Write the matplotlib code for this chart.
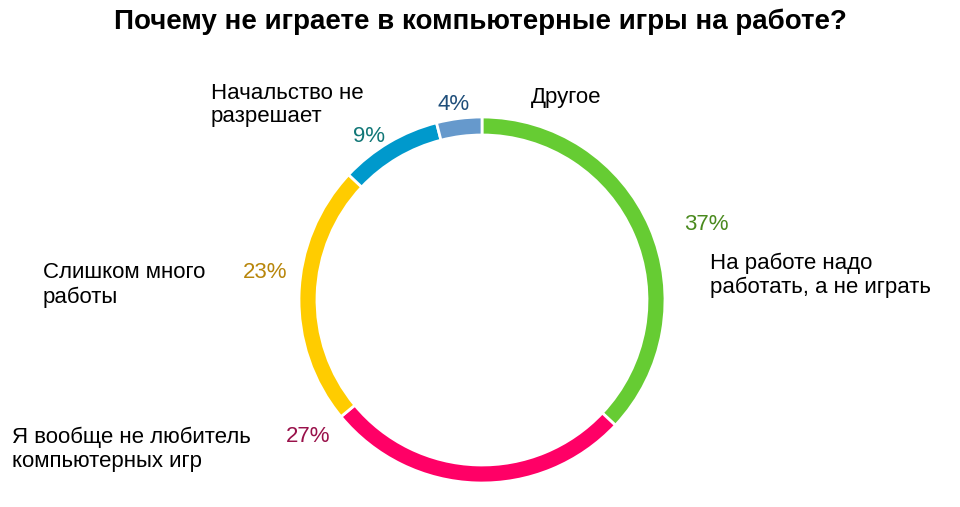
import matplotlib
matplotlib.use('Agg')
import matplotlib.pyplot as plt

# ---------------------------------------------------------------
title = 'Почему не играете в компьютерные игры на работе?'
labels = ['На работе надо\nработать, а не играть',
          'Я вообще не любитель\nкомпьютерных игр',
          'Слишком много\nработы',
          'Начальство не\nразрешает',
          'Другое']
values = [37, 27, 23, 9, 4]
colors = ['#66CC33', '#FF0066', '#FFCC00', '#0099CC', '#6699CC']
pct_colors = ['#4A8A1E', '#99114A', '#B8860B', '#117777', '#1F4E7A']
# ---------------------------------------------------------------

W, H = 960, 507
plt.rcParams['font.family'] = ['Liberation Sans', 'DejaVu Sans']

fig = plt.figure(figsize=(W / 100, H / 100), dpi=100)
ax = fig.add_axes([0, 0, 1, 1])

cx, cy, r = 482, 300, 183
ax.pie(values, colors=colors, startangle=90, counterclock=False,
       radius=r, center=(cx, H - cy),
       wedgeprops=dict(width=18, edgecolor='white', linewidth=2))
ax.set_xlim(0, W)
ax.set_ylim(0, H)
ax.set_aspect('equal')
ax.axis('off')

def put(x, y, s, **kw):
    ax.text(x, H - y, s, va='center', fontsize=16, linespacing=1.17, **kw)

ax.text(480, H - 22, title, ha='center', va='center', fontsize=20,
        fontweight='bold')

# category labels (pixel positions of the left edge / vertical centre)
label_pos = [(710, 275), (12, 449), (43, 285), (211, 105), (531, 97)]
pct_pos = [(684, 224), (286, 436), (243, 272), (353, 136), (437, 105)]

for lab, (lx, ly) in zip(labels, label_pos):
    put(lx, ly, lab, color='black')
for v, c, (px, py) in zip(values, pct_colors, pct_pos):
    put(px, py, f'{v}%', color=c)

fig.savefig('out.png', dpi=100, facecolor='white')
